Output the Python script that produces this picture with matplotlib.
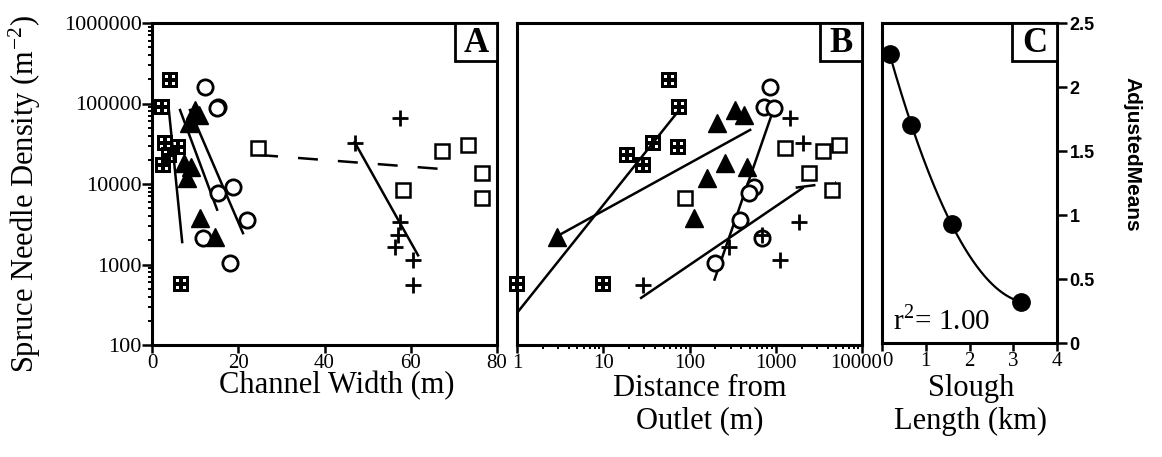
import numpy as np
import matplotlib
matplotlib.use("Agg")
import matplotlib.pyplot as plt
import matplotlib.transforms as mtransforms
from matplotlib.path import Path
from matplotlib.patches import Rectangle
from matplotlib.ticker import FixedLocator, FuncFormatter, LogLocator, NullFormatter

plt.rcParams['font.family'] = ['Liberation Serif', 'DejaVu Serif']
plt.rcParams['mathtext.fontset'] = 'stix'

# ---- spruce needle density by sampling site ----
# gridded squares
grid_width = [4.2, 2.3, 3.0, 6.0, 4.0, 2.5, 6.7, 6.7]
grid_dist = [58, 76, 38, 74, 19, 29, 1, 10]
grid_dens = [196000, 91000, 32000, 29000, 23000, 17000, 575, 575]

# filled triangles
tri_width = [14.6, 11.1, 8.1, 7.5, 9.0, 8.5, 10.0, 11.0]
tri_dist = [2.9, 114, 158, 257, 465, 207, 335, 430]
tri_dens = [2200, 3800, 11800, 18300, 16200, 57000, 83000, 72000]

# open circles
circ_width = [12.3, 15.3, 15.0, 18.8, 15.3, 22.0, 11.8, 18.1]
circ_dist = [860, 740, 960, 560, 490, 380, 700, 196]
circ_dens = [160000, 90000, 88000, 9100, 7700, 3550, 2150, 1040]

# crosses
plus_width = [57.5, 47.0, 57.5, 56.3, 60.5, 60.5, 57.0]
plus_dist = [1480, 2050, 1870, 285, 1130, 29, 700]
plus_dens = [66000, 32000, 3400, 1660, 1150, 560, 2350]

# open squares
sq_width = [24.6, 67.2, 73.3, 76.5, 76.5, 58.2]
sq_dist = [1290, 3500, 5400, 2400, 88, 4500]
sq_dens = [28000, 26000, 30500, 13700, 6700, 8500]

# fitted trend lines (end points)
grid_fit_width, grid_fit_wdens = [3.8, 7.0], [95000, 1900]
tri_fit_width, tri_fit_wdens = [6.5, 15.1], [83000, 4800]
circ_fit_width, circ_fit_wdens = [8.8, 21.1], [83000, 2450]
plus_fit_width, plus_fit_wdens = [47.0, 61.7], [33000, 1300]
sq_fit_width, sq_fit_wdens = [24.6, 70.3], [23000, 14900]

grid_fit_dist, grid_fit_ddens = [1, 76], [250, 83000]
tri_fit_dist, tri_fit_ddens = [2.9, 505], [2240, 47000]
circ_fit_dist, circ_fit_ddens = [195, 910], [650, 76000]
plus_fit_dist, plus_fit_ddens = [27.5, 2050], [385, 8900]
sq_fit_dist, sq_fit_ddens = [1700, 5000], [9000, 10500]

# ---- adjusted means vs slough length ----
slough_len = [0.18, 0.66, 1.6, 3.18]
adj_means = [2.26, 1.70, 0.93, 0.32]


def grid_square_path():
    verts, codes = [], []

    def square(x0, y0, x1, y1, reverse=False):
        pts = [(x0, y0), (x1, y0), (x1, y1), (x0, y1), (x0, y0)]
        if reverse:
            pts = pts[::-1]
        verts.extend(pts)
        codes.extend([Path.MOVETO] + [Path.LINETO] * 3 + [Path.CLOSEPOLY])

    square(-1, -1, 1, 1)
    for cx in (-0.42, 0.42):
        for cy in (-0.42, 0.42):
            square(cx - 0.19, cy - 0.19, cx + 0.19, cy + 0.19, reverse=True)
    return Path(verts, codes)


GRID = grid_square_path()
LW = 1.8

fig = plt.figure(figsize=(11.62, 4.57), dpi=100)
W, H = 1162, 457
axA = fig.add_axes([152 / W, 1 - 345 / H, 345 / W, 322 / H])
axB = fig.add_axes([517 / W, 1 - 345 / H, 345 / W, 322 / H])
axC = fig.add_axes([882 / W, 1 - 343 / H, 175 / W, 320 / H])

plain = FuncFormatter(lambda v, p: f"{v:.0f}")


def draw_series(ax, xs, fits):
    x_grid, x_tri, x_circ, x_plus, x_sq = xs
    ax.plot(x_sq, sq_dens, ls='none', marker='s', ms=10.5, mfc='white',
            mec='black', mew=1.8, clip_on=False, zorder=4)
    ax.plot(x_circ, circ_dens, ls='none', marker='o', ms=11, mfc='white',
            mec='black', mew=2.0, clip_on=False, zorder=4)
    ax.plot(x_tri, tri_dens, ls='none', marker='^', ms=12.5, color='black',
            clip_on=False, zorder=4)
    ax.plot(x_plus, plus_dens, ls='none', marker='+', ms=11, color='black',
            mew=2.0, clip_on=False, zorder=4)
    ax.plot(x_grid, grid_dens, ls='none', marker=GRID, ms=12, color='black',
            mew=0, clip_on=False, zorder=5)
    for fx, fy, dashed in fits:
        line, = ax.plot(fx, fy, color='black', lw=LW, zorder=3)
        if dashed:
            line.set_dashes((8, 8))


def panel_tag(ax, letter, w, h):
    ax.add_patch(Rectangle((1 - w, 1 - h), w, h, transform=ax.transAxes,
                           fc='white', ec='black', lw=2.0, zorder=6,
                           clip_on=False))
    ax.text(1 - w / 2, 1 - h / 2 - 0.004, letter, transform=ax.transAxes,
            ha='center', va='center', fontsize=25, fontweight='bold',
            zorder=7)


def nudge(label, dx_px):
    label.set_transform(label.get_transform() +
                        mtransforms.ScaledTranslation(dx_px / 100, 0,
                                                      fig.dpi_scale_trans))


for ax in (axA, axB, axC):
    for s in ax.spines.values():
        s.set_linewidth(2.2)
    ax.tick_params(which='major', direction='out', length=5.5, width=1.8,
                   labelsize=15, pad=1)
    ax.tick_params(which='minor', direction='out', length=3, width=1.4)

# Panel A
axA.set_yscale('log')
axA.set_xlim(0, 80)
axA.set_ylim(100, 1e6)
draw_series(axA, (grid_width, tri_width, circ_width, plus_width, sq_width),
            [(grid_fit_width, grid_fit_wdens, False),
             (tri_fit_width, tri_fit_wdens, False),
             (circ_fit_width, circ_fit_wdens, False),
             (plus_fit_width, plus_fit_wdens, False),
             (sq_fit_width, sq_fit_wdens, True)])
axA.xaxis.set_major_locator(FixedLocator([0, 20, 40, 60, 80]))
axA.yaxis.set_major_locator(FixedLocator([100, 1000, 10000, 100000, 1000000]))
axA.yaxis.set_minor_locator(LogLocator(base=10, subs=np.arange(2, 10)))
axA.yaxis.set_major_formatter(plain)
axA.yaxis.set_minor_formatter(NullFormatter())
axA.tick_params(axis='y', which='major', labelsize=16, length=7, pad=0.5)
panel_tag(axA, 'A', 42 / 345, 38 / 322)

# Panel B
axB.set_xscale('log')
axB.set_yscale('log')
axB.set_xlim(1, 10000)
axB.set_ylim(100, 1e6)
draw_series(axB, (grid_dist, tri_dist, circ_dist, plus_dist, sq_dist),
            [(grid_fit_dist, grid_fit_ddens, False),
             (tri_fit_dist, tri_fit_ddens, False),
             (circ_fit_dist, circ_fit_ddens, False),
             (plus_fit_dist, plus_fit_ddens, False),
             (sq_fit_dist, sq_fit_ddens, True)])
axB.xaxis.set_major_locator(FixedLocator([1, 10, 100, 1000, 10000]))
axB.xaxis.set_minor_locator(LogLocator(base=10, subs=np.arange(2, 10)))
axB.xaxis.set_major_formatter(plain)
axB.xaxis.set_minor_formatter(NullFormatter())
axB.tick_params(axis='y', which='both', left=False, labelleft=False)
panel_tag(axB, 'B', 42 / 345, 38 / 322)

# Panel C
coef = np.polyfit(slough_len, adj_means, 2)
xs = np.linspace(min(slough_len), max(slough_len), 200)
axC.plot(xs, np.polyval(coef, xs), color='black', lw=1.6, zorder=3)
axC.plot(slough_len, adj_means, ls='none', marker='o', ms=12.5,
         color='black', clip_on=False, zorder=4)
axC.set_xlim(0, 4)
axC.set_ylim(0, 2.5)
axC.xaxis.set_major_locator(FixedLocator([0, 1, 2, 3, 4]))
axC.yaxis.set_major_locator(FixedLocator([0, 0.5, 1, 1.5, 2, 2.5]))
axC.yaxis.set_major_formatter(FuncFormatter(lambda v, p: f"{v:g}"))
axC.yaxis.tick_right()
axC.tick_params(axis='y', which='both', left=False, right=True, labelright=True,
                labelleft=False, length=7, pad=2)
for lab in axC.get_yticklabels():
    lab.set_fontfamily('Liberation Sans')
    lab.set_fontweight('bold')
    lab.set_fontsize(13)
axC.text(0.063, 0.04, r'r$^{\mathregular{2}}$= 1.00', transform=axC.transAxes,
         ha='left', va='baseline', fontsize=21, zorder=7)
panel_tag(axC, 'C', 45 / 175, 38 / 320)

# keep the neighbouring end labels of B and C apart
fig.canvas.draw()
nudge(axB.get_xticklabels()[-1], -6)
nudge(axC.get_xticklabels()[0], 5)

# axis titles
fig.text(25 / W, 1 - 194 / H, r'Spruce Needle Density (m$^{\mathregular{-2}}$)',
         rotation=90, ha='center', va='center', fontsize=22)
fig.text(337 / W, 1 - 386 / H, 'Channel Width (m)', ha='center', va='center',
         fontsize=22)
fig.text(700 / W, 1 - 405 / H, 'Distance from\nOutlet (m)', ha='center',
         va='center', fontsize=22, linespacing=1.15)
fig.text(971 / W, 1 - 405 / H, 'Slough\nLength (km)', ha='center',
         va='center', fontsize=22, linespacing=1.15)
fig.text(1132 / W, 1 - 154 / H, 'AdjustedMeans', rotation=270, ha='center',
         va='center', fontsize=15, fontweight='bold', family='Liberation Sans')

fig.savefig('out.png', dpi=100, facecolor='white')
